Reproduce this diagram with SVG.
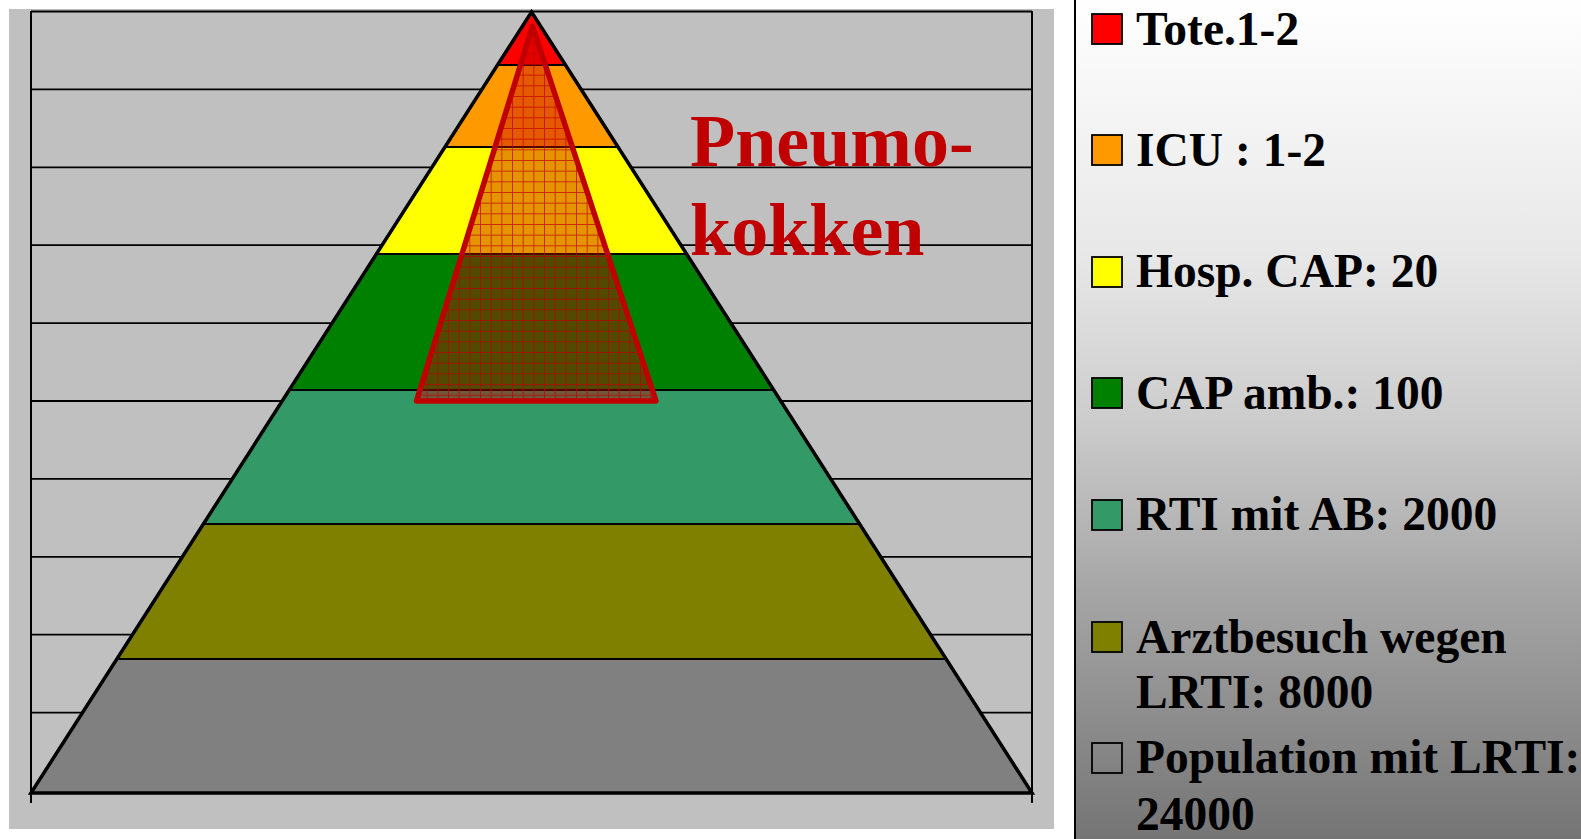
<svg xmlns="http://www.w3.org/2000/svg" width="1581" height="839" viewBox="0 0 1581 839">
<style>
.grid{stroke:#000;stroke-width:1.8;fill:none}
.axis{stroke:#000;stroke-width:2;fill:none}
.layer{stroke:#000;stroke-width:2.2;stroke-linejoin:miter}
.leg{font-family:"Liberation Serif","Times New Roman",serif;font-weight:bold;font-size:47.5px;fill:#000}
.sw{stroke:#000;stroke-width:1.8}
.pn{font-family:"Liberation Serif","Times New Roman",serif;font-weight:bold;font-size:74px;fill:#c00000}
</style>
<defs>
<linearGradient id="legbg" x1="0" y1="0" x2="0" y2="1">
<stop offset="0" stop-color="#ffffff"/>
<stop offset="0.3" stop-color="#e8e8e8"/>
<stop offset="0.5" stop-color="#cccccc"/>
<stop offset="0.7" stop-color="#a6a6a6"/>
<stop offset="1" stop-color="#747474"/>
</linearGradient>
<pattern id="hgrid" patternUnits="userSpaceOnUse" x="0" y="0" width="10.667" height="10.667">
<path d="M0 0.5H10.667M0.5 0V10.667" stroke="#c00000" stroke-width="1" fill="none" opacity="0.7"/>
</pattern>
</defs>
<rect x="0" y="0" width="1581" height="839" fill="#ffffff"/>
<rect id="plotbg" x="9" y="9" width="1045" height="820" fill="#c0c0c0"/>
<g id="gridlines" class="grid">
<path d="M31 11.5H1032M31 89.4H1032M31 167.3H1032M31 245.2H1032M31 323.1H1032M31 401H1032M31 478.9H1032M31 556.8H1032M31 634.7H1032M31 712.6H1032"/>
</g>
<g id="axes" class="axis">
<path d="M31 11V803M1032 11V803M31 793H1032"/>
</g>
<g id="pyramid">
<polygon id="layer-population" class="layer" fill="#808080" points="116.9,659 946.1,659 1032,793 31,793"/>
<polygon id="layer-arzt" class="layer" fill="#808000" points="203.4,524 859.6,524 946.1,659 116.9,659"/>
<polygon id="layer-rti" class="layer" fill="#339966" points="289.3,390 773.7,390 859.6,524 203.4,524"/>
<polygon id="layer-capamb" class="layer" fill="#008000" points="376.4,254 686.6,254 773.7,390 289.3,390"/>
<polygon id="layer-hosp" class="layer" fill="#ffff00" points="445,147 618,147 686.6,254 376.4,254"/>
<polygon id="layer-icu" class="layer" fill="#ff9900" points="497.5,65 565.5,65 618,147 445,147"/>
<polygon id="layer-tote" class="layer" fill="#ff0000" points="531.5,12 565.5,65 497.5,65"/>
<polygon id="outline" points="531.5,12 1032,793 31,793" fill="none" stroke="#000" stroke-width="3.5" stroke-linejoin="miter"/>
</g>
<g id="pneumo">
<polygon points="532.5,26 656,401 416.5,401" fill="#c00000" fill-opacity="0.42"/>
<polygon points="532.5,26 656,401 416.5,401" fill="url(#hgrid)"/>
<polygon points="532.5,26 656,401 416.5,401" fill="none" stroke="#c00000" stroke-width="5.5" stroke-linejoin="round"/>
<text class="pn" x="690" y="166">Pneumo-</text>
<text class="pn" x="690" y="255">kokken</text>
</g>
<g id="legend">
<rect x="1075" y="-2" width="510" height="845" fill="url(#legbg)"/>
<path d="M1075 0V839" stroke="#000" stroke-width="2"/>
<g id="leg-tote"><rect class="sw" x="1092" y="14" width="30" height="30" fill="#ff0000"/><text class="leg" x="1136" y="45">Tote.1-2</text></g>
<g id="leg-icu"><rect class="sw" x="1092" y="135" width="30" height="30" fill="#ff9900"/><text class="leg" x="1136" y="166">ICU : 1-2</text></g>
<g id="leg-hosp"><rect class="sw" x="1092" y="257" width="30" height="30" fill="#ffff00"/><text class="leg" x="1136" y="287">Hosp. CAP: 20</text></g>
<g id="leg-capamb"><rect class="sw" x="1092" y="378" width="30" height="30" fill="#008000"/><text class="leg" x="1136" y="409">CAP amb.: 100</text></g>
<g id="leg-rti"><rect class="sw" x="1092" y="500" width="30" height="30" fill="#339966"/><text class="leg" x="1136" y="530">RTI mit AB: 2000</text></g>
<g id="leg-arzt"><rect class="sw" x="1092" y="622" width="30" height="30" fill="#808000"/><text class="leg" x="1136" y="653">Arztbesuch wegen</text><text class="leg" x="1136" y="708">LRTI: 8000</text></g>
<g id="leg-pop"><rect class="sw" x="1092" y="743" width="30" height="30" fill="none"/><text class="leg" x="1136" y="773">Population mit LRTI:</text><text class="leg" x="1136" y="830">24000</text></g>
</g>
</svg>
